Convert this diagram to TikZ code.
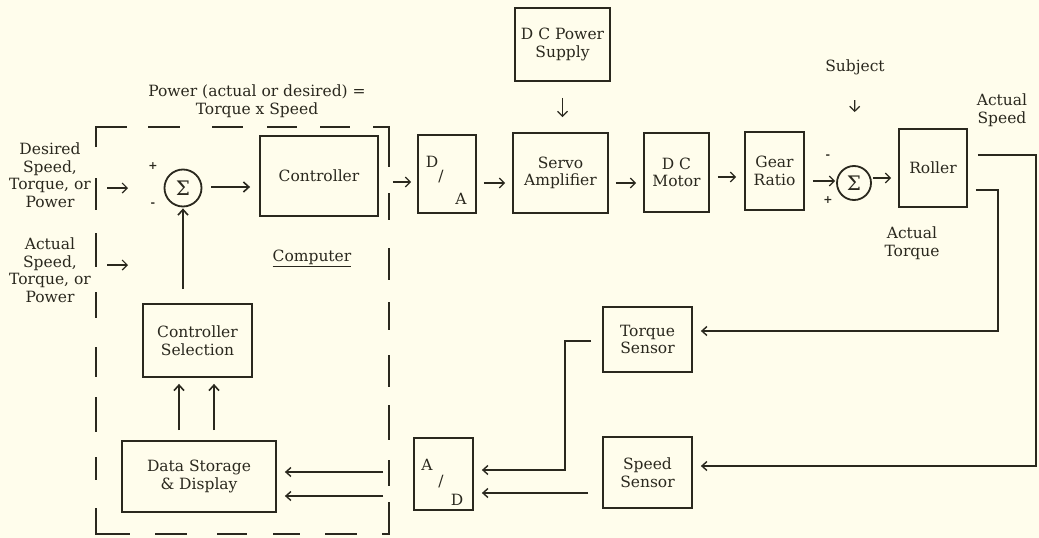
\documentclass[tikz,border=0pt]{standalone}
\usepackage{fontspec}
\setmainfont{DejaVu Serif}
\usetikzlibrary{arrows.meta,calc}
\definecolor{paper}{HTML}{FFFDEC}
\definecolor{ink}{HTML}{2A281E}
\begin{document}
\begin{tikzpicture}[x=1pt,y=-1pt,
  every node/.style={font=\fontsize{15.5}{17.5}\selectfont, text=ink, align=center},
  box/.style={draw=ink, line width=1.8pt, inner sep=0pt},
  frame/.style={draw=ink, line width=2.2pt},
  sumnode/.style={draw=ink, circle, line width=1.8pt, minimum size=#1, inner sep=0pt, font=\fontsize{20}{20}\selectfont},
  arr/.style={draw=ink, line width=1.2pt, -{Straight Barb[length=5pt,width=10pt,line width=1.2pt]}},
  harr/.style={draw=ink, line width=2.4pt, -{Straight Barb[length=5.5pt,width=10pt,line width=1.6pt]}},
  fb/.style={draw=ink, line width=2pt, -{Straight Barb[length=5pt,width=9pt,line width=1.4pt]}},
  sign/.style={font=\fontsize{11}{11}\selectfont\bfseries, inner sep=0pt}]
\fill[paper] (0,0) rectangle (1039,538);
\useasboundingbox (0,0) rectangle (1039,538);

% computer dashed frame (corners solid)
\draw[frame] (96,147) -- (96,127) -- (127,127);
\draw[frame] (373,127) -- (389,127) -- (389,167);
\draw[frame] (96,508) -- (96,534) -- (130,534);
\draw[frame] (382,534) -- (389,534) -- (389,502);
\foreach \a/\b in {148/180, 212/243, 267/297, 320/350}
  \draw[frame] (\a,127) -- (\b,127);
\foreach \a/\b in {155/187, 217/247, 273/300, 325/357}
  \draw[frame] (\a,534) -- (\b,534);
\foreach \a/\b in {178/210, 233/267, 292/318, 347/377, 397/432, 457/480}
  \draw[frame] (96,\a) -- (96,\b);
\foreach \a/\b in {193/220, 248/280, 302/330, 355/387, 405/440, 460/486}
  \draw[frame] (389,\a) -- (389,\b);

% labels
\node (desired) at (50,175) {Desired\\Speed,\\Torque, or\\Power};
\node (actual) at (50,270) {Actual\\Speed,\\Torque, or\\Power};
\node (title) at (257,101) {Power (actual or desired) =\\Torque x Speed};
\node (comp) at (312,258) {\underline{Computer}};
\node (subject) at (855,67) {Subject};
\node (aspeed) at (1002,110) {Actual\\Speed};
\node (atorque) at (912,243) {Actual\\Torque};

% blocks
\node[sumnode=37pt] (s1) at (183,188) {Σ};
\node[box, minimum width=118pt, minimum height=80pt] (ctrl) at (319,176) {Controller};
\node[box, minimum width=109pt, minimum height=73pt] (csel) at (197.5,340.5) {Controller\\Selection};
\node[box, minimum width=154pt, minimum height=71pt] (ds) at (199,476.5) {Data Storage\\\& Display};
\node[box, minimum width=58pt, minimum height=78pt] (da) at (447,174) {};
\node (daD) at (432,162) {D};
\node (daS) at (441,177) {/};
\node (daA) at (461,199) {A};
\node[box, minimum width=95pt, minimum height=80pt] (servo) at (560.5,173) {Servo\\Amplifier};
\node[box, minimum width=95pt, minimum height=73pt] (psu) at (562.5,44.5) {D C Power\\Supply};
\node[box, minimum width=65pt, minimum height=79pt] (motor) at (676.5,172.5) {D C\\Motor};
\node[box, minimum width=59pt, minimum height=78pt] (gear) at (774.5,171) {Gear\\Ratio};
\node[sumnode=34pt] (s2) at (854,183) {Σ};
\node[box, minimum width=68pt, minimum height=78pt] (roller) at (933,168) {Roller};
\node[box, minimum width=89pt, minimum height=65pt] (torq) at (647.5,339.5) {Torque\\Sensor};
\node[box, minimum width=89pt, minimum height=71pt] (speed) at (647.5,472.5) {Speed\\Sensor};
\node[box, minimum width=59pt, minimum height=72pt] (ad) at (443.5,474) {};
\node (adA) at (427,465) {A};
\node (adS) at (441,482) {/};
\node (adD) at (457,500) {D};

% signs
\node[sign] (p1) at (153,166) {+};
\node[sign] (m1) at (153,205) {-};
\node[sign] (m2) at (828,157) {-};
\node[sign] (p2) at (828,200) {+};

% input arrows
\coordinate (in1a) at (107,188);
\coordinate (in1b) at (128,188);
\coordinate (in2a) at (107,265);
\coordinate (in2b) at (128,265);
\draw[arr] (in1a) -- (in1b);
\draw[arr] (in2a) -- (in2b);

% forward path
\draw[harr, shorten <=9pt, shorten >=9pt] (s1.east |- 0,187) -- (ctrl.west |- 0,187);
\draw[arr, shorten <=14pt, shorten >=6pt] (ctrl.east |- 0,182) -- (da.west |- 0,182);
\draw[arr, shorten <=7pt, shorten >=7pt] (da.east |- 0,183) -- (servo.west |- 0,183);
\draw[arr, shorten <=16pt, shorten >=15pt] (psu.south) -- (servo.north -| psu.south);
\draw[arr, shorten <=7pt, shorten >=7pt] (servo.east |- 0,183) -- (motor.west |- 0,183);
\draw[arr, shorten <=8pt, shorten >=8pt] (motor.east |- 0,177) -- (gear.west |- 0,177);
\draw[arr, shorten <=8pt, shorten >=1pt] (gear.east |- 0,181) -- (s2.west |- 0,181);
\draw[arr, shorten <=1pt, shorten >=7pt] (s2.east |- 0,178) -- (roller.west |- 0,178);
\draw[arr, shorten <=22pt, shorten >=53pt] (subject.south) -- (s2.north);

% feedback
\coordinate (spc) at (1036,155);
\coordinate (tqc) at (998,190);
\draw[fb, shorten <=10pt, shorten >=8pt] (roller.east |- spc) -- (spc) |- (speed.east |- 0,466);
\draw[fb, shorten <=8pt, shorten >=8pt] (roller.east |- tqc) -- (tqc) |- (torq.east |- 0,331);
\coordinate (tqa) at (565,341);
\draw[fb, shorten <=11pt, shorten >=8pt] (torq.west |- tqa) -- (tqa) |- (ad.east |- 0,470);
\draw[fb, shorten <=14pt, shorten >=8pt] (speed.west |- 0,493) -- (ad.east |- 0,493);
\draw[fb, shorten <=30pt, shorten >=8pt] (ad.west |- 0,472) -- (ds.east |- 0,472);
\draw[fb, shorten <=30pt, shorten >=8pt] (ad.west |- 0,496) -- (ds.east |- 0,496);

% inside computer
\draw[harr, shorten <=10pt, shorten >=6pt] (ds.north -| 179,0) -- (csel.south -| 179,0);
\draw[harr, shorten <=10pt, shorten >=6pt] (ds.north -| 214,0) -- (csel.south -| 214,0);
\draw[harr, shorten <=14pt, shorten >=1pt] (csel.north -| s1) -- (s1.south);
\end{tikzpicture}
\end{document}
